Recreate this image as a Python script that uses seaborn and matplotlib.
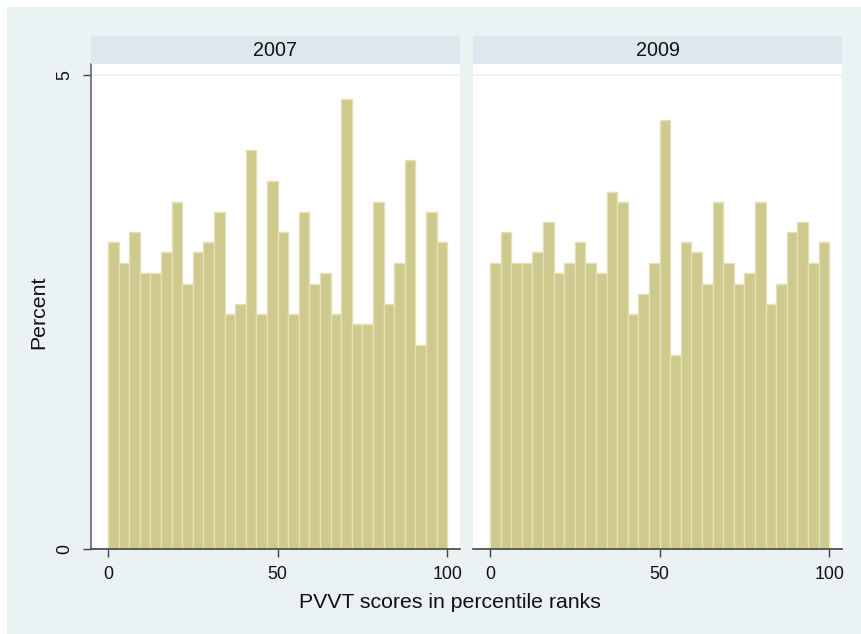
import numpy as np
import pandas as pd
import matplotlib
matplotlib.use("Agg")
import matplotlib.pyplot as plt
import seaborn as sns
from matplotlib.patches import Rectangle

sns.set_style("white")
plt.rcParams['font.family'] = ['Liberation Sans', 'DejaVu Sans']

years = ["2007", "2009"]
bin_centers = list(np.linspace(0, 100, 33)[:-1] + 100 / 64)
pct_2007 = [3.24, 3.02, 3.34, 2.91, 2.91, 3.13, 3.66, 2.80, 3.13, 3.24, 3.56, 2.48,
            2.58, 4.21, 2.48, 3.88, 3.34, 2.48, 3.56, 2.80, 2.91, 2.48, 4.75, 2.37,
            2.37, 3.66, 2.58, 3.02, 4.10, 2.15, 3.56, 3.24]
pct_2009 = [3.02, 3.34, 3.02, 3.02, 3.13, 3.45, 2.91, 3.02, 3.24, 3.02, 2.91, 3.77,
            3.66, 2.48, 2.69, 3.02, 4.53, 2.05, 3.24, 3.13, 2.80, 3.66, 3.02, 2.80,
            2.91, 3.66, 2.58, 2.80, 3.34, 3.45, 3.02, 3.24]
x_ticks = [0, 50, 100]
y_ticks = [0, 5]
xlabel = "PVVT scores in percentile ranks"
ylabel = "Percent"

df = pd.DataFrame({
    "year": [years[0]] * len(bin_centers) + [years[1]] * len(bin_centers),
    "score": bin_centers * 2,
    "percent": pct_2007 + pct_2009,
})

W, H = 861, 634
fig = plt.figure(figsize=(W / 100, H / 100), dpi=100)
fig.patch.set_facecolor("white")
BG = "#EAF2F3"
STRIP = "#DDE8EE"
fig.patches.append(Rectangle((7 / W, 0), 1, 1 - 7 / H, transform=fig.transFigure,
                             facecolor=BG, edgecolor="none", zorder=-10))

def fx(px):
    return px / W

def fy(py):
    return 1 - py / H

panels = [(91, 460), (473, 842)]
top_px, bot_px, strip_top = 64, 549, 36
for i, (yr, (l, r)) in enumerate(zip(years, panels)):
    ax = fig.add_axes([fx(l), fy(bot_px), fx(r - l), (bot_px - top_px) / H])
    ax.set_facecolor("white")
    sub = df[df["year"] == yr].reset_index(drop=True)
    sns.histplot(data=sub, x="score", weights="percent", binwidth=100 / 32,
                 binrange=(0, 100), ax=ax, stat="count",
                 color="#CEC98C", edgecolor="#E4E1B8", linewidth=1.0, alpha=1.0)
    ax.set_xlim(-5.0, 103.8)
    ax.set_ylim(0, 5.116)
    ax.axhline(5, color=BG, lw=1.2, zorder=0)
    ax.set_xticks(x_ticks)
    ax.set_xticklabels([str(t) for t in x_ticks], fontsize=12.8, color="#111111")
    ax.tick_params(axis="x", length=6, width=1, color="#444444", pad=6, direction="out", bottom=True)
    ax.set_xlabel("")
    ax.set_ylabel("")
    for s in ["top", "right"]:
        ax.spines[s].set_visible(False)
    ax.spines["bottom"].set_color("#444444")
    ax.spines["bottom"].set_linewidth(1.2)
    if i == 0:
        ax.spines["left"].set_color("#666666")
        ax.spines["left"].set_linewidth(1.2)
        ax.set_yticks(y_ticks)
        ax.set_yticklabels([str(t) for t in y_ticks], fontsize=12.8, rotation=90,
                           va="center", color="#111111")
        ax.tick_params(axis="y", length=6, width=1, color="#444444", pad=7, direction="out", left=True)
    else:
        ax.spines["left"].set_visible(False)
        ax.set_yticks([])
    # strip
    sax = fig.add_axes([fx(l), fy(top_px), fx(r - l), (top_px - strip_top) / H])
    sax.set_facecolor(STRIP)
    sax.set_xticks([])
    sax.set_yticks([])
    for s in sax.spines.values():
        s.set_visible(False)
    sax.text(0.5, 0.5, yr, ha="center", va="center", fontsize=14.2, color="#111111",
             transform=sax.transAxes)

fig.text(fx(450), fy(603), xlabel, ha="center", va="center", fontsize=15.3, color="#111111")
fig.text(fx(39), fy(312), ylabel, ha="center", va="center", rotation=90, fontsize=15.3, color="#111111")

fig.savefig("out.png", dpi=100)
